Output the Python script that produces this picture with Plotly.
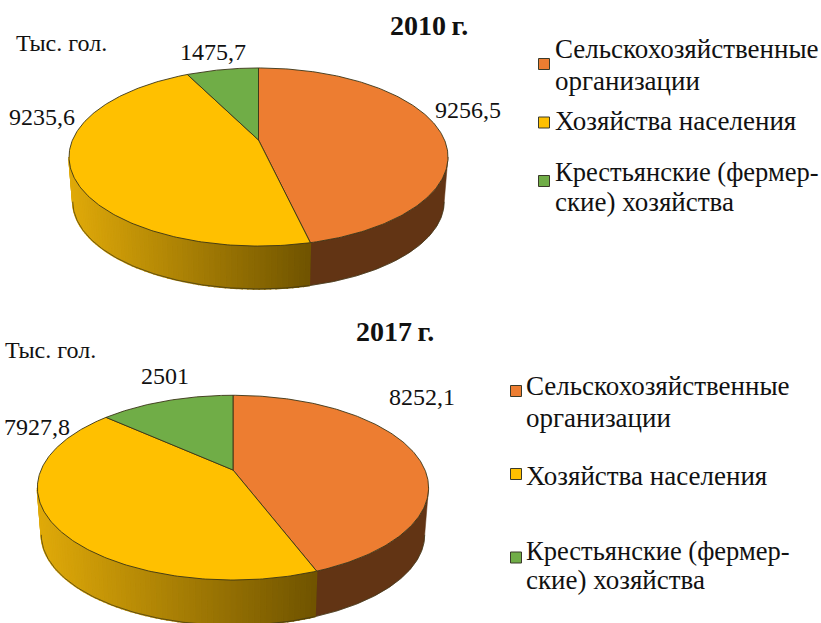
import numpy as np
import plotly.graph_objects as go

# ---- data ----
categories = ["Сельскохозяйственные организации", "Хозяйства населения", "Крестьянские (фермерские) хозяйства"]
values_2010 = [9256.5, 9235.6, 1475.7]
values_2017 = [8252.1, 7927.8, 2501]
labels_2010 = ["9256,5", "9235,6", "1475,7"]
labels_2017 = ["8252,1", "7927,8", "2501"]
colors = ["#ED7D31", "#FFC000", "#70AD47"]
legend_lines = [["Сельскохозяйственные", "организации"], ["Хозяйства населения"], ["Крестьянские (фермер-", "ские) хозяйства"]]
legend_sizes = [[27, 27], [27], [26.5, 27]]
unit_label = "Тыс. гол."
FONT = "Liberation Serif"
EDGE = "#3a3416"

fig = go.Figure()


def text(x, y, s, size=24, anchor="left", bold=False):
    fig.add_annotation(x=x, y=y, text=f"<b>{s}</b>" if bold else s, showarrow=False, xanchor=anchor, yanchor="middle",
                       font=dict(family=FONT, size=size, color="#111111"), xref="x", yref="y", borderpad=0)


def draw_pie(values, cx, cy, a, b, p, dz, s=0.98):
    def rim(theta, lower=False):
        X, Y = np.sin(theta), -np.cos(theta)
        d = 1 - p * Y
        k = s if lower else 1.0
        return cx + k * a * X / d, cy + (dz if lower else 0) + k * b * Y / d

    v = np.array(values, dtype=float)
    edges = np.concatenate([[0], np.cumsum(v)]) / v.sum() * 2 * np.pi
    lo = np.arccos(-p)          # silhouette of the projected rim
    hi = 2 * np.pi - lo
    for i in range(len(v)):
        t0, t1 = max(edges[i], lo), min(edges[i + 1], hi)
        if t1 <= t0:
            continue
        if i == 0:
            tt = np.linspace(t0, t1, 120)
            xu, yu = rim(tt)
            xl, yl = rim(tt[::-1], True)
            col = "rgb(98,52,20)"
            fig.add_trace(go.Scatter(x=np.r_[xu, xl, xu[0]], y=np.r_[yu, yl, yu[0]], mode="lines", fill="toself",
                                     fillcolor=col, line=dict(color=col, width=0.5), hoverinfo="skip"))
        else:
            n = max(int((t1 - t0) * 40), 2)
            ts = np.linspace(t0, t1, n + 1)
            xb0, _ = rim(np.array(t0))
            xb1, _ = rim(np.array(t1))
            for j in range(n):
                seg = np.linspace(ts[j], ts[j + 1], 3)
                xu, yu = rim(seg)
                xl, yl = rim(seg[::-1], True)
                u = (xu.mean() - min(xb0, xb1)) / abs(xb1 - xb0)
                col = "rgb(%d,%d,%d)" % (224 - 112 * u, 170 - 86 * u, 10 - 10 * u)
                fig.add_trace(go.Scatter(x=np.r_[xu, xl, xu[0]], y=np.r_[yu, yl, yu[0]], mode="lines", fill="toself",
                                         fillcolor=col, line=dict(color=col, width=1.6), hoverinfo="skip"))
        tt = np.linspace(t0, t1, 120)
        xl, yl = rim(tt, True)
        fig.add_trace(go.Scatter(x=xl, y=yl, mode="lines", line=dict(color=EDGE, width=0.7), hoverinfo="skip"))
        if edges[i + 1] < hi:
            xu, yu = rim(np.array(t1))
            xl, yl = rim(np.array(t1), True)
            fig.add_trace(go.Scatter(x=[xu, xl], y=[yu, yl], mode="lines", line=dict(color=EDGE, width=0.9),
                                     hoverinfo="skip"))
    for i in range(len(v)):
        tt = np.linspace(edges[i], edges[i + 1], 200)
        xu, yu = rim(tt)
        fig.add_trace(go.Scatter(x=np.r_[cx, xu, cx], y=np.r_[cy, yu, cy], mode="lines", fill="toself",
                                 fillcolor=colors[i], line=dict(color=EDGE, width=0.9), hoverinfo="skip"))


draw_pie(values_2010, 258.5, 140, 186, 85.8, 0.191, 45)
draw_pie(values_2017, 233, 470, 192, 89, 0.191, 47.5)


def legend(x_box, ys_box, x_text, ys_text):
    k = 0
    for i, lines in enumerate(legend_lines):
        fig.add_trace(go.Scatter(x=[x_box], y=[ys_box[i]], mode="markers", hoverinfo="skip",
                                 marker=dict(symbol="square", size=11, color=colors[i],
                                             line=dict(color="#3a3a2a", width=1))))
        for ln, sz in zip(lines, legend_sizes[i]):
            text(x_text, ys_text[k], ln, size=sz)
            k += 1


legend(544, [64, 122.5, 181], 554, [49, 81, 121, 172, 202])
legend(516, [391, 474, 557.5], 525, [386, 418, 476, 551, 580])

text(429, 25, "2010\u2009г.", size=28, anchor="center", bold=True)
text(395, 331, "2017\u2009г.", size=28, anchor="center", bold=True)
text(15, 43, unit_label, size=24)
text(4, 350, unit_label, size=24)

text(468, 110, labels_2010[0], anchor="center")
text(42, 117, labels_2010[1], anchor="center")
text(213, 52, labels_2010[2], anchor="center")
text(422, 397, labels_2017[0], anchor="center")
text(37, 427, labels_2017[1], anchor="center")
text(165, 376, labels_2017[2], anchor="center")

fig.update_layout(width=821, height=623, margin=dict(l=0, r=0, t=0, b=0), showlegend=False,
                  paper_bgcolor="white", plot_bgcolor="white",
                  xaxis=dict(range=[0, 821], visible=False, fixedrange=True),
                  yaxis=dict(range=[623, 0], visible=False, fixedrange=True))
fig.write_html("out.html", config=dict(displayModeBar=False),
               post_script="document.body.style.margin='0';document.documentElement.style.overflow='hidden';")
